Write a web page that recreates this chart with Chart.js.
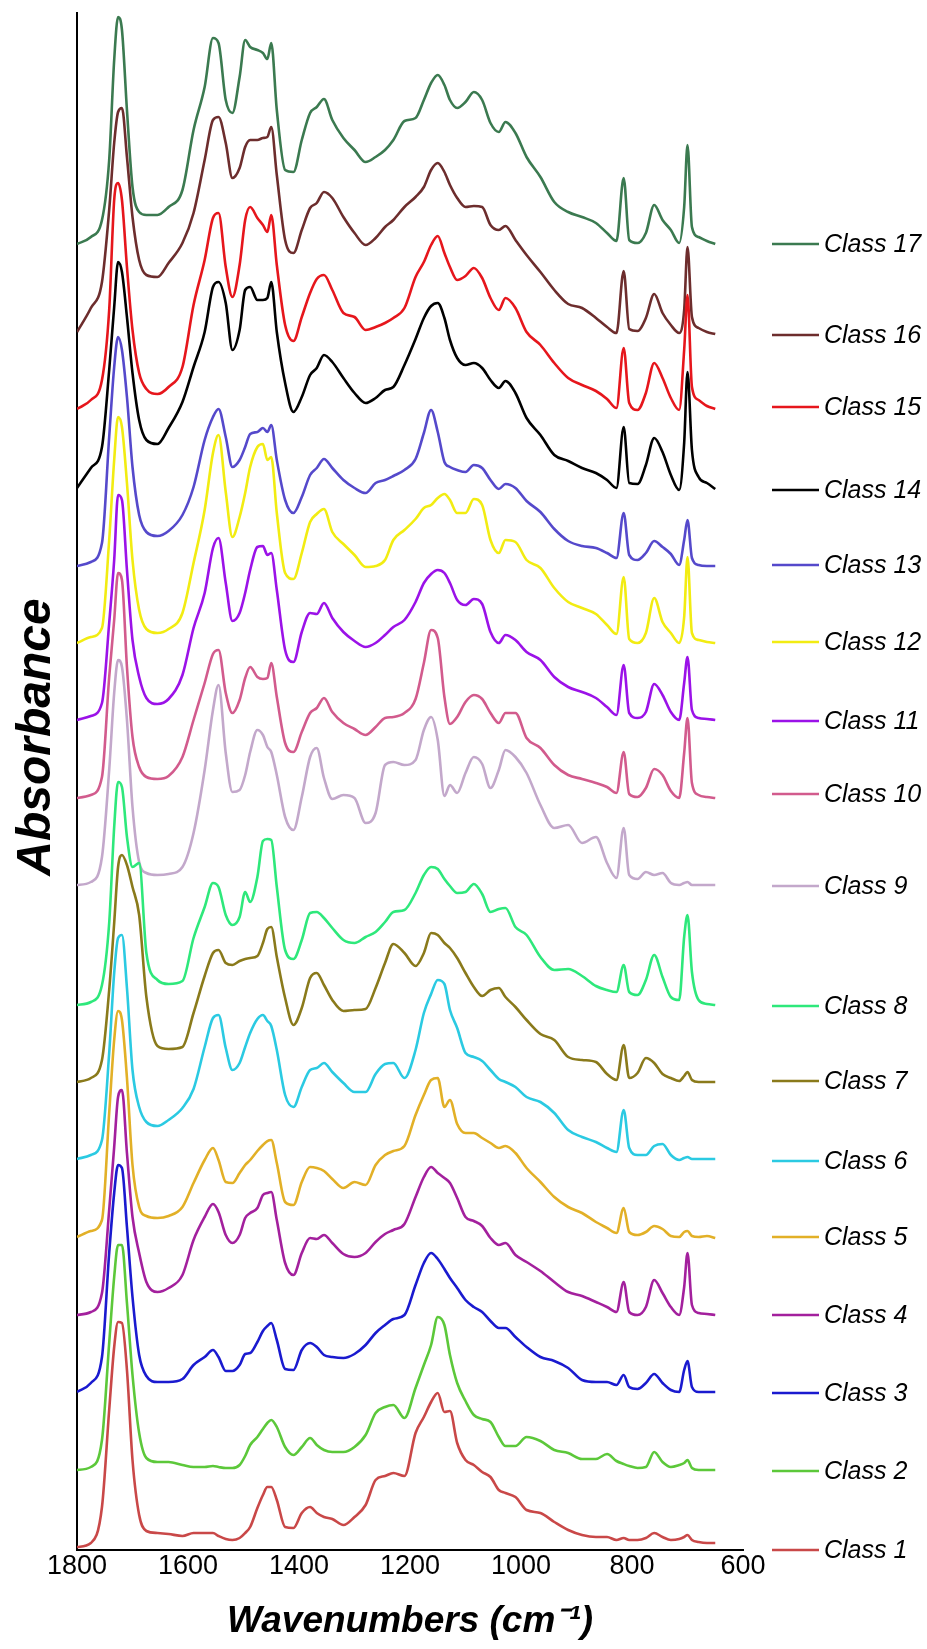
<!DOCTYPE html>
<html>
<head>
<meta charset="utf-8">
<script src="https://cdn.jsdelivr.net/npm/chart.js@4.4.1/dist/chart.umd.min.js"></script>
<style>
  html, body { margin: 0; padding: 0; background: #fff; }
  canvas { display: block; }
</style>
</head>
<body>
<canvas id="spectra" width="927" height="1649"></canvas>
<script>
// wavenumber grid (cm-1) shared by all spectra
const wavenumbers = [1800,1775,1755,1742,1733,1726,1719,1710,1700,1688,
  1675,1655,1635,1610,1590,1570,1555,1545,1532,1520,
  1507,1497,1488,1475,1465,1457,1450,1440,1425,1410,
  1395,1380,1368,1355,1340,1320,1300,1280,1262,1245,
  1230,1210,1190,1175,1162,1150,1138,1128,1115,1100,
  1085,1070,1055,1040,1028,1010,990,965,940,915,
  890,865,845,828,815,805,790,775,760,745,
  730,715,706,700,692,680,665,650];

// absorbance (stacked with offsets)
const class1 = [0.03,0.07,0.43,1.40,2.03,2.28,2.27,1.80,0.90,0.35,
  0.19,0.17,0.16,0.14,0.17,0.17,0.17,0.14,0.11,0.10,
  0.12,0.17,0.23,0.42,0.55,0.63,0.63,0.50,0.23,0.22,
  0.37,0.43,0.37,0.33,0.31,0.25,0.33,0.45,0.70,0.74,
  0.77,0.74,1.17,1.33,1.48,1.57,1.38,1.39,1.07,0.90,
  0.85,0.78,0.73,0.60,0.57,0.53,0.40,0.37,0.28,0.20,
  0.15,0.13,0.13,0.10,0.12,0.10,0.10,0.12,0.17,0.13,
  0.10,0.11,0.13,0.15,0.10,0.08,0.07,0.07];
const class2 = [0.80,0.83,1.10,2.07,2.73,3.05,3.05,2.47,1.75,1.17,
  0.92,0.88,0.88,0.85,0.83,0.83,0.84,0.83,0.82,0.82,
  0.85,0.94,1.05,1.13,1.21,1.27,1.30,1.23,1.03,0.95,
  1.03,1.12,1.05,1.00,0.98,0.98,1.03,1.15,1.37,1.43,
  1.45,1.32,1.62,1.85,2.05,2.33,2.25,1.95,1.67,1.49,
  1.35,1.31,1.28,1.13,1.04,1.04,1.13,1.09,1.00,0.97,
  0.91,0.91,0.96,0.89,0.86,0.84,0.82,0.83,0.98,0.88,
  0.83,0.85,0.87,0.90,0.82,0.80,0.80,0.80];
const class3 = [1.58,1.67,1.93,2.97,3.57,3.85,3.82,3.23,2.53,1.95,
  1.74,1.68,1.68,1.71,1.85,1.93,2.00,1.93,1.79,1.79,
  1.85,1.96,1.97,2.08,2.19,2.24,2.27,2.10,1.81,1.80,
  2.00,2.07,2.03,1.95,1.93,1.92,1.96,2.05,2.17,2.25,
  2.31,2.35,2.65,2.87,2.97,2.91,2.81,2.72,2.62,2.50,
  2.43,2.38,2.29,2.22,2.22,2.13,2.03,1.93,1.89,1.82,
  1.70,1.68,1.68,1.65,1.75,1.63,1.61,1.67,1.76,1.67,
  1.60,1.58,1.80,1.89,1.63,1.58,1.58,1.58];
const class4 = [2.35,2.38,2.57,3.40,4.03,4.53,4.60,3.97,3.33,2.97,
  2.68,2.58,2.62,2.75,3.10,3.33,3.46,3.38,3.15,3.07,
  3.15,3.32,3.37,3.42,3.55,3.57,3.58,3.30,2.87,2.75,
  2.97,3.12,3.11,3.15,3.07,2.96,2.93,2.97,3.08,3.16,
  3.20,3.26,3.53,3.73,3.83,3.77,3.72,3.67,3.52,3.33,
  3.29,3.24,3.12,3.05,3.07,2.95,2.88,2.79,2.68,2.58,
  2.54,2.48,2.43,2.38,2.68,2.38,2.35,2.43,2.70,2.57,
  2.43,2.35,2.63,2.97,2.45,2.37,2.36,2.35];
const class5 = [3.13,3.19,3.30,4.37,5.10,5.39,5.30,4.72,3.85,3.43,
  3.34,3.32,3.34,3.43,3.67,3.90,4.02,3.90,3.68,3.67,
  3.77,3.85,3.90,3.99,4.05,4.09,4.10,3.87,3.48,3.45,
  3.68,3.83,3.82,3.79,3.71,3.62,3.68,3.65,3.85,3.95,
  3.99,4.04,4.35,4.55,4.70,4.72,4.43,4.50,4.26,4.17,
  4.17,4.12,4.07,4.02,4.04,3.97,3.82,3.68,3.53,3.43,
  3.37,3.28,3.22,3.17,3.42,3.18,3.15,3.18,3.24,3.21,
  3.14,3.13,3.18,3.19,3.14,3.13,3.14,3.12];
const class6 = [3.91,3.95,4.10,4.97,5.77,6.12,6.15,5.62,4.80,4.43,
  4.28,4.24,4.30,4.42,4.61,5.03,5.32,5.35,5.02,4.80,
  4.87,5.03,5.17,5.31,5.35,5.29,5.24,5.00,4.55,4.43,
  4.63,4.80,4.82,4.87,4.78,4.67,4.58,4.58,4.76,4.86,
  4.87,4.72,5.00,5.37,5.56,5.70,5.66,5.40,5.22,4.97,
  4.93,4.89,4.80,4.71,4.68,4.63,4.53,4.48,4.37,4.20,
  4.13,4.08,4.02,3.98,4.40,4.02,3.95,3.95,4.04,4.06,
  3.95,3.90,3.92,3.93,3.91,3.91,3.91,3.91];
const class7 = [4.68,4.72,4.90,5.60,6.27,6.83,6.95,6.85,6.63,6.35,
  5.53,5.04,5.01,5.03,5.37,5.74,5.97,6.00,5.87,5.85,
  5.89,5.91,5.92,5.94,6.07,6.21,6.23,5.93,5.52,5.25,
  5.42,5.72,5.77,5.65,5.50,5.39,5.40,5.41,5.62,5.87,
  6.06,5.97,5.84,5.97,6.17,6.15,6.07,6.02,5.92,5.77,
  5.63,5.54,5.60,5.62,5.53,5.43,5.30,5.16,5.10,4.93,
  4.90,4.88,4.76,4.70,5.05,4.72,4.77,4.92,4.87,4.76,
  4.72,4.69,4.74,4.78,4.70,4.68,4.68,4.68];
const class8 = [5.45,5.48,5.65,6.27,7.23,7.68,7.63,7.13,6.83,6.87,
  5.97,5.70,5.66,5.69,6.12,6.43,6.67,6.63,6.35,6.25,
  6.33,6.58,6.48,6.73,7.09,7.11,7.10,6.63,6.00,5.91,
  6.10,6.37,6.38,6.32,6.22,6.10,6.07,6.13,6.18,6.28,
  6.38,6.40,6.57,6.75,6.83,6.81,6.71,6.64,6.57,6.58,
  6.66,6.56,6.38,6.41,6.42,6.23,6.15,5.93,5.80,5.81,
  5.74,5.64,5.60,5.58,5.85,5.58,5.55,5.70,5.95,5.73,
  5.53,5.50,6.13,6.35,5.78,5.50,5.46,5.45];
const class9 = [6.65,6.68,6.93,7.80,8.57,8.90,8.83,8.30,7.43,6.88,
  6.77,6.75,6.76,6.83,7.17,7.80,8.40,8.65,7.97,7.58,
  7.60,7.75,7.98,8.20,8.15,8.03,7.98,7.75,7.33,7.20,
  7.53,7.93,8.02,7.72,7.51,7.55,7.52,7.27,7.37,7.85,
  7.88,7.85,7.90,8.20,8.33,8.10,7.54,7.65,7.57,7.77,
  7.93,7.86,7.62,7.80,8.00,7.93,7.77,7.45,7.22,7.25,
  7.07,7.13,6.87,6.72,7.22,6.75,6.71,6.78,6.75,6.77,
  6.67,6.65,6.67,6.68,6.65,6.65,6.65,6.65];
const class10 = [7.52,7.55,7.73,8.73,9.30,9.77,9.70,8.83,8.13,7.83,
  7.73,7.71,7.74,7.93,8.30,8.67,8.96,9.00,8.57,8.37,
  8.50,8.72,8.83,8.73,8.71,8.72,8.87,8.53,8.07,7.98,
  8.18,8.37,8.42,8.52,8.38,8.27,8.21,8.15,8.23,8.32,
  8.33,8.37,8.51,8.87,9.20,9.12,8.53,8.26,8.33,8.48,
  8.55,8.51,8.37,8.27,8.37,8.37,8.12,8.02,7.85,7.75,
  7.71,7.67,7.63,7.57,7.98,7.56,7.53,7.62,7.81,7.75,
  7.59,7.52,7.97,8.32,7.67,7.55,7.53,7.52];
const class11 = [8.30,8.34,8.47,9.27,9.90,10.55,10.50,9.80,9.10,8.73,
  8.52,8.46,8.51,8.75,9.22,9.57,10.02,10.12,9.67,9.29,
  9.37,9.57,9.80,10.03,10.04,9.95,9.97,9.60,9.00,8.88,
  9.18,9.37,9.36,9.47,9.32,9.18,9.09,9.03,9.07,9.15,
  9.23,9.30,9.48,9.67,9.76,9.80,9.77,9.67,9.50,9.45,
  9.51,9.46,9.18,9.07,9.15,9.10,8.98,8.90,8.73,8.63,
  8.58,8.52,8.43,8.35,8.85,8.37,8.32,8.38,8.66,8.55,
  8.38,8.30,8.67,8.93,8.40,8.32,8.31,8.30];
const class12 = [9.07,9.13,9.22,10.10,10.90,11.33,11.23,10.67,9.90,9.40,
  9.21,9.17,9.21,9.37,9.87,10.40,10.97,11.15,10.58,10.13,
  10.33,10.57,10.83,11.03,11.06,10.90,10.93,10.37,9.77,9.71,
  9.97,10.28,10.36,10.41,10.18,10.06,9.95,9.83,9.84,9.90,
  10.10,10.20,10.31,10.42,10.45,10.52,10.56,10.50,10.37,10.37,
  10.51,10.45,10.10,9.97,10.10,10.08,9.90,9.82,9.62,9.48,
  9.42,9.36,9.25,9.16,9.73,9.11,9.07,9.17,9.52,9.28,
  9.17,9.07,9.33,9.93,9.17,9.10,9.08,9.07];
const class13 = [9.84,9.88,10.07,11.13,11.83,12.13,12.00,11.53,10.83,10.35,
  10.18,10.14,10.19,10.35,10.63,11.10,11.33,11.41,11.13,10.83,
  10.90,11.03,11.16,11.18,11.22,11.18,11.25,10.90,10.50,10.37,
  10.53,10.75,10.82,10.91,10.82,10.70,10.62,10.57,10.67,10.70,
  10.74,10.80,10.91,11.17,11.40,11.18,10.88,10.83,10.80,10.78,
  10.85,10.82,10.70,10.61,10.66,10.62,10.49,10.38,10.21,10.09,
  10.04,10.02,9.97,9.92,10.37,9.95,9.90,9.97,10.09,10.03,
  9.96,9.85,10.10,10.30,9.92,9.85,9.84,9.84];
const class14 = [10.62,10.82,11.03,11.80,12.43,12.88,12.78,12.33,11.77,11.30,
  11.10,11.06,11.22,11.48,11.83,12.18,12.63,12.68,12.47,12.00,
  12.20,12.60,12.63,12.50,12.50,12.52,12.68,12.18,11.67,11.38,
  11.53,11.75,11.82,11.95,11.88,11.72,11.57,11.47,11.52,11.60,
  11.63,11.85,12.11,12.32,12.44,12.47,12.32,12.10,11.92,11.85,
  11.87,11.82,11.70,11.62,11.69,11.57,11.32,11.15,10.95,10.89,
  10.82,10.77,10.70,10.62,11.23,10.67,10.66,10.85,11.12,10.98,
  10.75,10.60,11.07,11.78,11.00,10.73,10.67,10.61];
const class15 = [11.41,11.50,11.70,12.40,13.50,13.67,13.50,12.83,12.20,11.77,
  11.61,11.56,11.63,11.83,12.45,12.90,13.32,13.37,12.83,12.53,
  12.85,13.30,13.43,13.32,13.25,13.18,13.35,12.85,12.25,12.09,
  12.33,12.57,12.71,12.75,12.60,12.37,12.33,12.20,12.23,12.27,
  12.32,12.42,12.73,12.88,13.05,13.14,12.97,12.83,12.70,12.74,
  12.82,12.72,12.52,12.40,12.52,12.42,12.18,12.05,11.87,11.72,
  11.65,11.59,11.51,11.42,12.02,11.47,11.40,11.57,11.87,11.72,
  11.52,11.40,12.00,12.55,11.63,11.50,11.44,11.41];
const class16 = [12.18,12.42,12.68,13.40,14.07,14.38,14.42,13.93,13.33,12.90,
  12.75,12.73,12.87,13.07,13.37,13.90,14.30,14.33,14.07,13.72,
  13.82,14.03,14.10,14.10,14.12,14.13,14.23,13.75,13.10,12.97,
  13.20,13.42,13.47,13.58,13.52,13.33,13.17,13.05,13.12,13.23,
  13.30,13.43,13.53,13.63,13.80,13.87,13.78,13.65,13.52,13.43,
  13.44,13.43,13.25,13.20,13.24,13.10,12.95,12.78,12.60,12.46,
  12.42,12.32,12.23,12.17,12.79,12.21,12.19,12.32,12.56,12.37,
  12.25,12.17,12.40,13.03,12.33,12.22,12.18,12.16];
const class17 = [13.06,13.13,13.30,13.90,14.90,15.33,15.20,14.40,13.63,13.38,
  13.35,13.35,13.43,13.60,14.20,14.63,15.12,15.07,14.50,14.37,
  14.73,15.10,15.03,15.00,14.97,14.91,15.07,14.40,13.80,13.78,
  14.10,14.37,14.43,14.51,14.30,14.12,14.00,13.88,13.93,14.00,
  14.10,14.29,14.32,14.50,14.67,14.75,14.65,14.50,14.42,14.48,
  14.58,14.50,14.27,14.18,14.28,14.17,13.93,13.73,13.48,13.38,
  13.33,13.27,13.17,13.09,13.72,13.10,13.07,13.17,13.45,13.30,
  13.20,13.07,13.43,14.05,13.23,13.13,13.09,13.06];

const classLabels = ['Class 1','Class 2','Class 3','Class 4','Class 5','Class 6','Class 7','Class 8','Class 9',
  'Class 10','Class 11','Class 12','Class 13','Class 14','Class 15','Class 16','Class 17'];
const xTickValues = [1800, 1600, 1400, 1200, 1000, 800, 600];

const allSeries = [class1, class2, class3, class4, class5, class6, class7, class8, class9,
  class10, class11, class12, class13, class14, class15, class16, class17];

const lineColors = ['#c94848', '#5cc83a', '#1a1acf', '#a3209d', '#e2b027', '#2bcae2', '#8a7a1b',
  '#2ee87b', '#c3a8cb', '#d25b8d', '#9b12e8', '#f2ec12', '#5549cb', '#000000', '#e6161c', '#6d2d2d', '#3b7a50'];

const FONT = "'Liberation Sans', Arial, sans-serif";

// legend entries sit at the right, next to where each trace ends
const legendRowY = [1550, 1471, 1393, 1315, 1237, 1161, 1081, 1006, 886, 794, 721, 642, 565, 490, 407, 335, 244];

const sideLegend = {
  id: 'sideLegend',
  afterDraw(chart) {
    const ctx = chart.ctx;
    ctx.save();
    ctx.font = 'italic 25px ' + FONT;
    ctx.textBaseline = 'middle';
    ctx.textAlign = 'left';
    classLabels.forEach((label, i) => {
      const y = legendRowY[i];
      ctx.strokeStyle = lineColors[i];
      ctx.lineWidth = 2.5;
      ctx.beginPath();
      ctx.moveTo(772, y);
      ctx.lineTo(819, y);
      ctx.stroke();
      ctx.fillStyle = '#000';
      ctx.fillText(label, 824, y + 1);
    });
    ctx.restore();
  }
};

// y title is not centred on the axis in the original, so it is drawn by hand
const yTitle = {
  id: 'yTitle',
  afterDraw(chart) {
    const ctx = chart.ctx;
    ctx.save();
    ctx.translate(37, 737);
    ctx.rotate(-Math.PI / 2);
    ctx.font = 'italic bold 48px ' + FONT;
    ctx.fillStyle = '#000';
    ctx.textAlign = 'center';
    ctx.textBaseline = 'middle';
    ctx.fillText('Absorbance', 0, 0);
    ctx.restore();
  }
};

const datasets = allSeries.map((vals, i) => ({
  label: classLabels[i],
  data: wavenumbers.map((w, j) => ({ x: w, y: vals[j] })),
  borderColor: lineColors[i],
  borderWidth: 2.6,
  pointRadius: 0,
  fill: false,
  cubicInterpolationMode: 'monotone'
}));

new Chart(document.getElementById('spectra'), {
  type: 'line',
  data: { datasets: datasets },
  options: {
    responsive: false,
    animation: false,
    devicePixelRatio: 1,
    layout: { padding: { left: 77, right: 184, top: 13, bottom: 0 } },
    plugins: {
      legend: { display: false },
      tooltip: { enabled: false }
    },
    scales: {
      x: {
        type: 'linear',
        reverse: true,
        min: 600,
        max: 1800,
        afterBuildTicks: axis => { axis.ticks = xTickValues.map(v => ({ value: v })); },
        afterFit: axis => { axis.height = 99; },
        grid: { display: false, drawTicks: false },
        border: { display: true, color: '#000', width: 2 },
        ticks: {
          padding: 0,
          color: '#000',
          font: { family: FONT, size: 27 },
          maxRotation: 0,
          callback: v => String(v)
        },
        title: {
          display: true,
          text: 'Wavenumbers (cm\u207B\u00B9)',
          color: '#000',
          font: { family: FONT, size: 37, weight: 'bold', style: 'italic' },
          padding: { top: 0, bottom: 5 }
        }
      },
      y: {
        type: 'linear',
        min: 0,
        max: 15.37,
        afterFit: axis => { axis.width = 0; },
        grid: { display: false, drawTicks: false },
        border: { display: true, color: '#000', width: 2 },
        ticks: { display: false }
      }
    }
  },
  plugins: [sideLegend, yTitle]
});
</script>
</body>
</html>
